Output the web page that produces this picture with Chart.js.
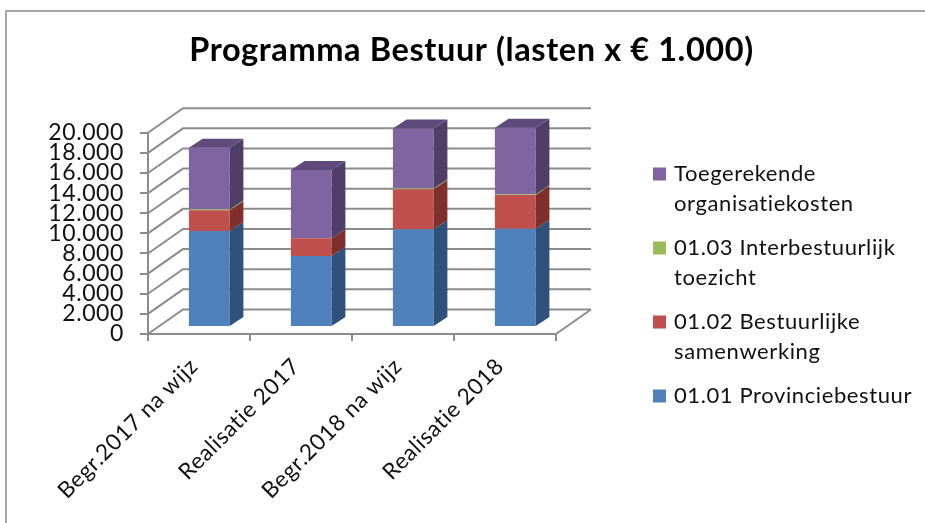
<!DOCTYPE html>
<html>
<head>
<meta charset="utf-8">
<style>html,body{margin:0;padding:0;background:#fff;overflow:hidden}canvas{display:block}</style>
<script src="https://cdn.jsdelivr.net/npm/chart.js@4/dist/chart.umd.min.js"></script>
</head>
<body>
<canvas id="c" width="925" height="523"></canvas>
<script>
const categories = ['Begr.2017 na wijz', 'Realisatie 2017', 'Begr.2018 na wijz', 'Realisatie 2018'];
const provinciebestuur = [9530, 7050, 9700, 9760];
const samenwerking = [2060, 1760, 3975, 3350];
const toezicht = [100, 20, 100, 70];
const organisatiekosten = [6120, 6760, 5955, 6610];
const titleText = 'Programma Bestuur (lasten x € 1.000)';
const fontFamily = 'Lato';
const gray = '#8c8c8c';

const sideColors = ['#2f527c', '#7f2f2c', '#66803a', '#503e68'];
const topColor = '#5f4a7c';
const WALL = {dx: 35, dy: -24.5};
const BAR = {ox: 10.3, oy: -7, dx: 13.7, dy: -9};

const threeD = {
  id: 'threeD',
  beforeDraw(chart) {
    const ctx = chart.ctx;
    ctx.letterSpacing = '0.6px';
    ctx.save();
    ctx.strokeStyle = '#a6a6a6';
    ctx.lineWidth = 2;
    ctx.strokeRect(6, 11, 1200, 1200);
    ctx.restore();
  },
  beforeDatasetsDraw(chart) {
    const ctx = chart.ctx, y = chart.scales.y, a = chart.chartArea;
    ctx.save();
    ctx.strokeStyle = gray;
    ctx.lineWidth = 2;
    y.ticks.forEach(t => {
      const py = y.getPixelForValue(t.value);
      ctx.beginPath();
      ctx.moveTo(a.left, py);
      ctx.lineTo(a.left + WALL.dx, py + WALL.dy);
      ctx.lineTo(a.right + WALL.dx, py + WALL.dy);
      ctx.stroke();
    });
    ctx.beginPath();
    ctx.moveTo(a.right, a.bottom);
    ctx.lineTo(a.right + WALL.dx, a.bottom + WALL.dy);
    ctx.stroke();
    ctx.restore();
    ctx.save();
    ctx.translate(BAR.ox, BAR.oy);
  },
  afterDatasetsDraw(chart) {
    const ctx = chart.ctx;
    chart.data.datasets.forEach((ds, i) => {
      chart.getDatasetMeta(i).data.forEach(el => {
        const r = el.x + el.width / 2, l = el.x - el.width / 2;
        ctx.fillStyle = sideColors[i];
        ctx.beginPath();
        ctx.moveTo(r, el.y);
        ctx.lineTo(r + BAR.dx, el.y + BAR.dy);
        ctx.lineTo(r + BAR.dx, el.base + BAR.dy);
        ctx.lineTo(r, el.base);
        ctx.closePath();
        ctx.fill();
        if (i === chart.data.datasets.length - 1) {
          ctx.fillStyle = topColor;
          ctx.beginPath();
          ctx.moveTo(l, el.y);
          ctx.lineTo(l + BAR.dx, el.y + BAR.dy);
          ctx.lineTo(r + BAR.dx, el.y + BAR.dy);
          ctx.lineTo(r, el.y);
          ctx.closePath();
          ctx.fill();
        }
      });
    });
    ctx.restore();
  },
  beforeLayout(chart) {
    const lg = chart.legend;
    if (!lg._fitWrapped) {
      const fit = lg.fit;
      lg.fit = function () { fit.call(this); this.width = 369; };
      lg._fitWrapped = true;
    }
  },
  afterLayout(chart) {
    chart.legend.left = 642;
    chart.legend.top = 149;
  }
};

new Chart(document.getElementById('c'), {
  type: 'bar',
  data: {
    labels: categories,
    datasets: [
      {label: '01.01 Provinciebestuur', data: provinciebestuur, backgroundColor: '#4f81bd', clip: false},
      {label: ['01.02 Bestuurlijke', 'samenwerking'], data: samenwerking, backgroundColor: '#c0504d', clip: false},
      {label: ['01.03 Interbestuurlijk', 'toezicht'], data: toezicht, backgroundColor: '#9bbb59', clip: false},
      {label: ['Toegerekende', 'organisatiekosten'], data: organisatiekosten, backgroundColor: '#8064a2', clip: false}
    ]
  },
  plugins: [threeD],
  options: {
    responsive: false,
    animation: false,
    layout: {padding: {left: 18, right: 0, top: 0, bottom: 0}},
    datasets: {bar: {categoryPercentage: 1, barPercentage: 0.4}},
    scales: {
      x: {
        stacked: true,
        afterFit(s) { s.height = 189; },
        grid: {drawOnChartArea: false, color: gray, lineWidth: 2, tickLength: 7},
        border: {color: gray, width: 2},
        ticks: {
          autoSkip: false, minRotation: 45, maxRotation: 45, padding: 12, labelOffset: -5,
          color: '#111', font: {family: fontFamily, size: 22.5}
        }
      },
      y: {
        stacked: true,
        min: 0, max: 20000,
        afterFit(s) { s.width = 130; },
        grid: {drawOnChartArea: false, color: gray, lineWidth: 2, tickLength: 8},
        border: {color: gray, width: 2},
        ticks: {
          autoSkip: false,
          stepSize: 2000, padding: 16, color: '#111',
          font: {family: fontFamily, size: 23},
          callback: v => String(v).replace(/\B(?=(\d{3})+$)/g, '.')
        }
      }
    },
    plugins: {
      tooltip: {enabled: false},
      title: {
        display: true, text: titleText, color: '#000',
        font: {family: fontFamily, size: 32.5, weight: 'bold', lineHeight: 1.2},
        padding: {top: 31, bottom: 62.7}
      },
      legend: {
        position: 'right', align: 'start', reverse: true,
        labels: {
          boxWidth: 7, boxHeight: 7, padding: 14, color: '#111',
          font: {family: fontFamily, size: 22, lineHeight: '30px'},
          generateLabels(chart) {
            return Chart.defaults.plugins.legend.labels.generateLabels(chart).map(it =>
              Object.assign(it, {lineWidth: 6, strokeStyle: it.fillStyle}));
          }
        }
      }
    }
  }
});
</script>
</body>
</html>
